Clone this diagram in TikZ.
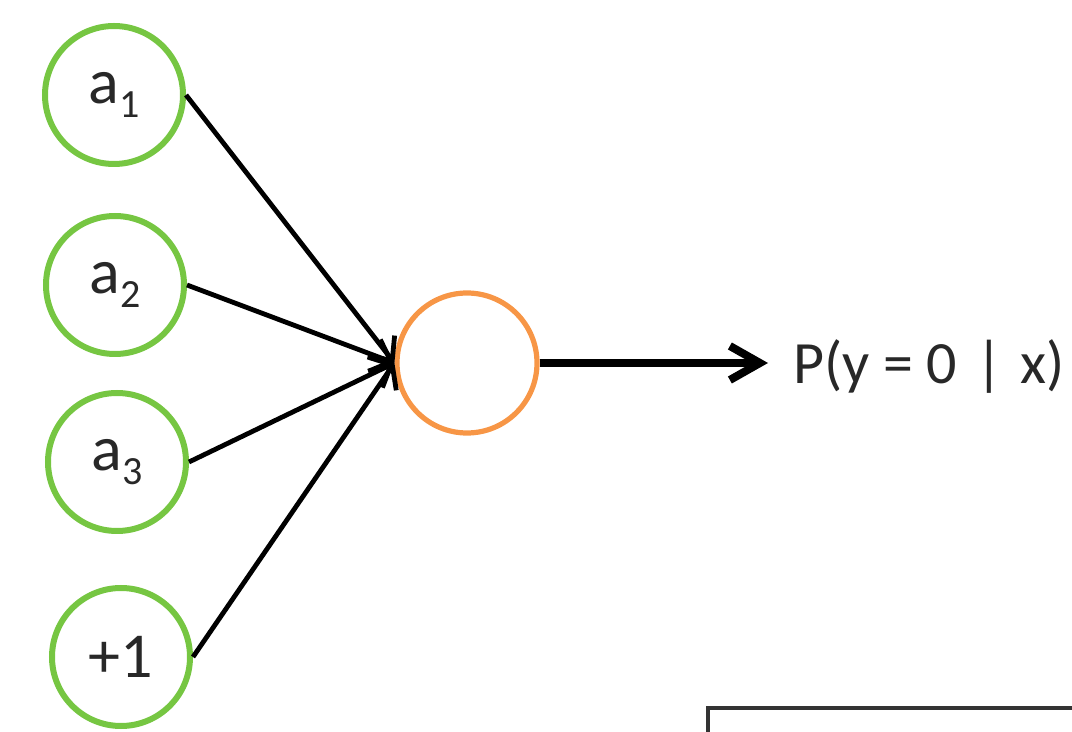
\documentclass[tikz,border=0pt]{standalone}
\usepackage{fontspec}
\setmainfont{Carlito}
\usetikzlibrary{arrows.meta}
\definecolor{ingreen}{RGB}{118,198,66}
\definecolor{outorange}{RGB}{247,150,70}
\definecolor{ink}{RGB}{40,40,40}
\newcommand{\subidx}[1]{\raisebox{-0.22em}{\fontsize{20}{22}\selectfont #1}}
\begin{document}
\begin{tikzpicture}[x=0.5pt,y=-0.5pt,
  unit/.style={circle,draw=ingreen,line width=3pt,minimum size=69pt,inner sep=0pt,
               text=ink,font=\fontsize{32}{36}\selectfont},
  sumunit/.style={circle,draw=outorange,line width=2.6pt,minimum size=70pt,inner sep=0pt},
  feed/.style={line width=2.4pt,-{Straight Barb[length=9pt,width=17pt,line width=2.4pt]}},
  outarrow/.style={line width=3.6pt,-{Straight Barb[length=15pt,width=17pt,line width=4pt]}},
  label/.style={anchor=west,inner sep=0pt,text=ink,font=\fontsize{30}{34}\selectfont}]
\useasboundingbox (0,0) rectangle (1072,732);

% input units
\node[unit] (a1) at (114,95)  {a\subidx{1}};
\node[unit] (a2) at (115,285) {a\subidx{2}};
\node[unit] (a3) at (117,462) {a\subidx{3}};
\node[unit] (b)  at (121,657) {+1};

% output unit
\node[sumunit] (s) at (467,363) {};

% weighted connections into the unit
\coordinate (tip) at (s.west);
\draw[feed] (a1.east) -- (tip);
\draw[feed] (a2.east) -- (tip);
\draw[feed] (a3.east) -- (tip);
\draw[feed] (b.east)  -- (tip);

% output
\coordinate (outend) at (768,363);
\draw[outarrow] (s.east) -- (outend);
\node[label] (p) at (793,366) {P(y = 0\hspace{0.3em}|\hspace{0.3em}x)};

% partial frame at the bottom right
\draw[line width=1.6pt,black!80] (708,740) -- (708,708) -- (1080,708);
\end{tikzpicture}
\end{document}
